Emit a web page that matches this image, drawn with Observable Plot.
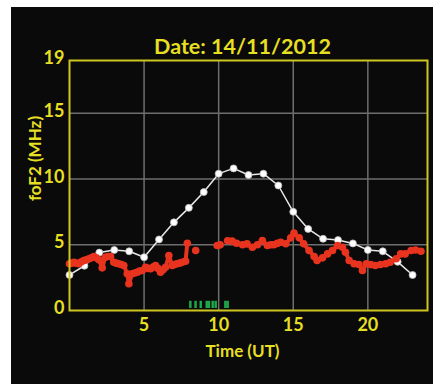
<!DOCTYPE html>
<html><head><meta charset="utf-8">
<script src="https://cdn.jsdelivr.net/npm/d3@7"></script>
<script src="https://cdn.jsdelivr.net/npm/@observablehq/plot@0.6"></script>
<style>
body{margin:0;background:#fff;}
#chart{position:absolute;left:11px;top:7px;}
</style></head><body><div id="chart"></div>
<script>
const titleText = "Date: 14/11/2012";
const xLabel = "Time (UT)";
const yLabel = "foF2 (MHz)";
const xTicks = [5, 10, 15, 20];
const yTicks = [0, 5, 10, 15, 19];
const xGrid = [5, 10, 15, 20];
const yGrid = [5, 10, 15];

// white series (hourly)
const whiteT = [0,1,2,3,4,5,6,7,8,9,10,11,12,13,14,15,16,17,18,19,20,21,22,23];
const whiteV = [2.7,3.4,4.4,4.6,4.5,4.05,5.4,6.7,7.8,9.0,10.4,10.8,10.3,10.4,9.5,7.5,6.2,5.45,5.35,5.1,4.6,4.5,3.7,2.7];

// red series
const redT = [0,0.15,0.3,0.45,0.63,0.8,0.96,1.13,1.3,1.47,1.63,1.8,1.97,2.19,2.4,2.58,2.75,2.97,3.13,3.3,3.47,3.64,3.87,3.98,4.2,4.37,4.54,4.7,4.88,5.1,5.27,5.44,5.6,5.77,5.93,6.1,6.27,6.44,6.66,6.89,7.05,7.2,7.38,7.56,7.78,7.9,
  8.46,
  9.9,10.1,
  10.6,10.9,11.2,11.6,11.9,12.26,12.6,12.93,13.27,13.5,13.7,13.93,14.16,14.5,14.83,15.05,15.4,15.7,16.06,16.4,16.6,16.96,17.3,17.63,17.97,18.3,18.5,18.75,19.08,19.4,19.64,19.9,20.2,20.5,20.85,21.2,21.5,21.9,22.2,22.5,22.9,23.2,23.56];
const redV = [3.55,3.6,3.67,3.6,3.55,3.7,3.8,3.85,3.93,4.0,4.1,4.0,3.85,3.24,4.05,4.1,4.1,3.67,3.6,3.55,3.5,3.42,2.79,2.03,2.79,2.85,2.91,3.0,3.04,3.29,3.2,3.17,3.3,3.42,3.2,2.91,3.1,3.29,4.18,3.42,3.5,3.55,3.6,3.67,3.75,5.11,
  4.56,
  4.94,4.99,
  5.3,5.27,5.11,5.0,5.06,4.81,5.0,5.32,4.94,5.0,5.0,5.1,5.19,5.07,5.52,5.88,5.52,5.07,4.56,4.1,3.8,4.0,4.3,4.56,4.94,4.81,4.43,3.8,3.55,3.5,3.04,3.55,3.49,3.42,3.5,3.55,3.67,3.93,4.3,4.3,4.56,4.6,4.5];
const redSeg = redT.map(t => t <= 7.95 ? 0 : t < 9 ? 1 : t < 10.3 ? 2 : 3);

// green markers near the x axis
const greenT = [8.1, 8.45, 8.8, 9.2, 9.35, 9.6, 9.8, 10.45, 10.6];

const whiteData = whiteT.map((t, i) => ({t, v: whiteV[i]}));
const redData = redT.map((t, i) => ({t, v: redV[i], s: redSeg[i]}));

const yellow = "#e6df22";
const frameYellow = "#cfc520";
const redC = "#e8331f";

const chart = Plot.plot({
  width: 422, height: 377,
  marginLeft: 58, marginRight: 6, marginTop: 53, marginBottom: 74,
  style: {background: "#0a0a0a", fontFamily: "Lato, sans-serif", fontWeight: "bold", color: yellow},
  x: {domain: [0, 24]},
  y: {domain: [0, 19]},
  marks: [
    Plot.gridX(xGrid, {stroke: "#6e6e6e", strokeOpacity: 1, strokeWidth: 1.5}),
    Plot.gridY(yGrid, {stroke: "#6e6e6e", strokeOpacity: 1, strokeWidth: 1.5}),
    Plot.axisX(xTicks, {tickSize: 0, tickPadding: 8, fontSize: 18, fill: yellow, label: null}),
    Plot.axisY(yTicks, {tickSize: 0, tickPadding: 5, dy: -2, fontSize: 18, fill: yellow, label: null}),
    Plot.ruleX(greenT, {y1: 0.15, y2: 0.7, stroke: "#1fa64a", strokeWidth: 2.5}),
    Plot.line(whiteData, {x: "t", y: "v", stroke: "#e8e8e8", strokeWidth: 1.5}),
    Plot.dot(whiteData, {x: "t", y: "v", r: 3.5, fill: "#ffffff", stroke: "#bbbbbb", strokeWidth: 0.8}),
    Plot.line(redData, {x: "t", y: "v", z: "s", stroke: redC, strokeWidth: 4}),
    Plot.dot(redData, {x: "t", y: "v", r: 3.8, fill: redC}),
    Plot.frame({stroke: frameYellow, strokeWidth: 2}),
    Plot.text([titleText], {frameAnchor: "top", textAnchor: "middle", dx: -6, dy: -22, fontSize: 21.5, fill: yellow}),
    Plot.text([xLabel], {frameAnchor: "bottom", textAnchor: "middle", dx: -6, dy: 46, fontSize: 17, fill: yellow}),
    Plot.text([yLabel], {frameAnchor: "left", textAnchor: "middle", rotate: -90, dx: -34, dy: -27, fontSize: 17, fill: yellow})
  ]
});
document.getElementById("chart").append(chart);
</script></body></html>
